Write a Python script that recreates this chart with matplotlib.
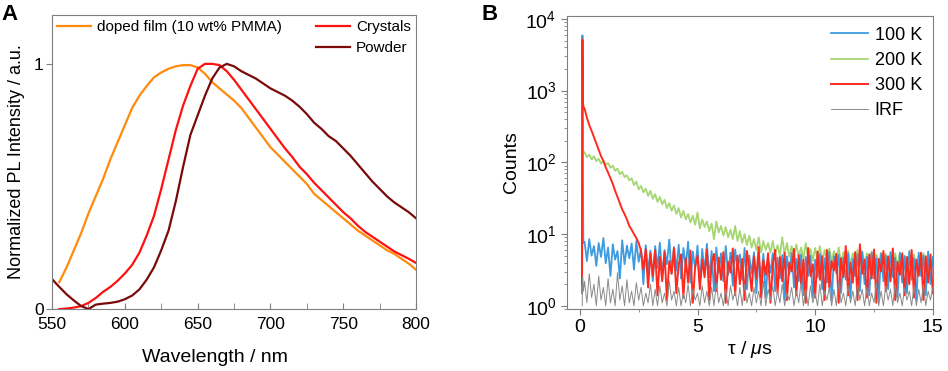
import numpy as np
import matplotlib
matplotlib.use('Agg')
import matplotlib.pyplot as plt
from matplotlib.ticker import MultipleLocator, LogLocator, NullFormatter

plt.rcParams['font.family'] = ['Liberation Sans', 'DejaVu Sans']
plt.rcParams['mathtext.fontset'] = 'custom'
plt.rcParams['mathtext.rm'] = 'Liberation Sans'
plt.rcParams['mathtext.it'] = 'Liberation Sans:italic'

# ---- panel A: normalized PL spectra ----
wl_film = [555, 560, 565, 570, 575, 580, 585, 590, 595, 600, 605, 610, 615, 620,
           625, 630, 635, 640, 645, 650, 655, 660, 665, 670, 675, 680, 685, 690,
           695, 700, 705, 710, 715, 720, 725, 730, 735, 740, 745, 750, 755, 760,
           765, 770, 775, 780, 785, 790, 795, 800]
pl_film = [0.11, 0.17, 0.24, 0.31, 0.39, 0.46, 0.53, 0.61, 0.68, 0.75, 0.82, 0.87,
           0.91, 0.945, 0.965, 0.98, 0.99, 0.995, 0.995, 0.985, 0.96, 0.925, 0.90,
           0.875, 0.85, 0.82, 0.78, 0.74, 0.70, 0.66, 0.63, 0.60, 0.57, 0.54, 0.51,
           0.47, 0.445, 0.42, 0.395, 0.37, 0.345, 0.32, 0.30, 0.28, 0.26, 0.24,
           0.225, 0.205, 0.185, 0.16]

wl_cryst = [555, 560, 565, 570, 575, 580, 585, 590, 595, 600, 605, 610, 615, 620,
            625, 630, 635, 640, 645, 650, 655, 660, 665, 670, 675, 680, 685, 690,
            695, 700, 705, 710, 715, 720, 725, 730, 735, 740, 745, 750, 755, 760,
            765, 770, 775, 780, 785, 790, 795, 800]
pl_cryst = [0.0, 0.002, 0.006, 0.012, 0.025, 0.045, 0.07, 0.09, 0.115, 0.145,
            0.18, 0.23, 0.3, 0.38, 0.49, 0.61, 0.73, 0.83, 0.91, 0.98, 1.0, 1.0,
            0.995, 0.97, 0.935, 0.895, 0.855, 0.815, 0.775, 0.735, 0.695, 0.655,
            0.62, 0.58, 0.55, 0.515, 0.485, 0.455, 0.425, 0.395, 0.37, 0.34, 0.315,
            0.295, 0.275, 0.255, 0.235, 0.22, 0.205, 0.188]

wl_powder = [550, 555, 560, 565, 570, 575, 580, 585, 590, 595, 600, 605, 610, 615,
             620, 625, 630, 635, 640, 645, 650, 655, 660, 665, 670, 675, 680, 685,
             690, 695, 700, 705, 710, 715, 720, 725, 730, 735, 740, 745, 750, 755,
             760, 765, 770, 775, 780, 785, 790, 795, 800]
pl_powder = [0.122, 0.09, 0.06, 0.035, 0.012, 0.0, 0.018, 0.022, 0.025, 0.03, 0.04,
             0.055, 0.08, 0.12, 0.17, 0.24, 0.32, 0.44, 0.58, 0.71, 0.79, 0.87,
             0.94, 0.985, 1.0, 0.99, 0.97, 0.955, 0.94, 0.92, 0.9, 0.885, 0.87,
             0.85, 0.825, 0.795, 0.76, 0.735, 0.705, 0.685, 0.655, 0.625, 0.59,
             0.555, 0.52, 0.49, 0.46, 0.435, 0.415, 0.395, 0.37]

# ---- panel B: PL decays ----
# first few time bins around the excitation pulse
t_head_blue = [0.09, 0.11, 0.13, 0.15]
head_blue = [1.5, 5900, 60, 7.5]
t_head_green = [0.10, 0.12, 0.14, 0.16]
head_green = [1.5, 400, 150, 135]
t_head_red = [0.09, 0.11, 0.13, 0.15]
head_red = [2.0, 5100, 700, 600]
t_head_irf = [0.10, 0.12, 0.15]
head_irf = [1.0, 2.5, 1.6]

# remaining bins, 0.2 us to 15.0 us in 0.1 us steps
t_tail = np.round(np.arange(0.2, 15.05, 0.1), 2)
tail_blue = [7.8, 4.2, 8.5, 5.0, 6.8, 3.6, 7.5, 4.8, 8.8, 3.9,
             6.5, 2.6, 7.2, 4.4, 5.8, 2.4, 8.2, 3.8, 6.9, 4.6,
             7.4, 3.2, 8.0, 4.1, 6.2, 2.0, 7.0, 3.0, 5.9, 2.2,
             6.8, 3.4, 7.6, 2.6, 6.0, 3.8, 8.4, 2.8, 6.6, 3.1,
             7.1, 2.4, 6.4, 3.5, 7.8, 2.1, 5.7, 3.3, 6.9, 2.0,
             6.2, 3.0, 7.3, 2.5, 5.8, 1.6, 6.5, 2.9, 5.4, 2.2,
             6.8, 2.7, 5.5, 1.9, 6.1, 3.2, 5.2, 2.3, 6.4, 1.7,
             5.0, 2.8, 5.6, 1.5, 4.8, 2.5, 5.3, 1.3, 4.6, 2.9,
             5.4, 1.6, 4.7, 2.4, 5.1, 1.2, 4.9, 2.7, 5.5, 1.8,
             4.5, 2.2, 5.2, 1.4, 4.8, 2.6, 5.0, 1.3, 4.4, 2.5,
             5.3, 1.7, 4.6, 2.1, 5.6, 1.2, 4.9, 2.8, 5.1, 1.5,
             4.7, 2.3, 5.4, 1.3, 4.5, 2.6, 5.2, 1.6, 5.7, 2.0,
             4.8, 1.4, 5.5, 2.4, 4.6, 1.2, 5.3, 2.2, 5.0, 1.7,
             5.6, 2.5, 4.7, 1.3, 5.4, 2.1, 4.9, 1.5, 5.8, 2.3,
             4.6, 1.2, 5.5, 2.6, 5.0, 1.4, 5.7, 2.0, 4.8]
tail_green = [138, 118, 128, 110, 122, 104, 112, 96, 106, 92,
              98, 84, 90, 76, 82, 68, 74, 62, 66, 56,
              60, 48, 54, 42, 47, 38, 43, 34, 40, 31,
              36, 28, 33, 26, 30, 23, 27, 21, 25, 19,
              23, 17, 21, 16, 19, 14.5, 18, 13.5, 20, 12,
              16, 12.5, 15, 11, 14, 8.5, 15, 10.5, 13, 9.5,
              12.5, 9, 11.5, 8.5, 13, 8, 11, 7.5, 10, 7,
              9.5, 6.5, 8.5, 6, 9, 5.5, 8, 6, 7.5, 5.5,
              8, 5.2, 7, 5, 9, 5.2, 7.5, 4.8, 6.8, 5,
              7.2, 4.8, 6.5, 4.5, 7.5, 4.6, 6.2, 4.2, 6.4, 4.4,
              6.8, 4.3, 6, 4.1, 6.3, 4.2, 5.8, 4, 6.5, 3.9,
              5.6, 4, 5.8, 3.8, 5.4, 4.1, 6, 3.7, 5.5, 3.9,
              5.4, 3.8, 5.7, 3.6, 5.2, 3.9, 5.5, 3.5, 5.3, 3.7,
              5.1, 3.6, 5.4, 3.4, 5.6, 3.7, 5, 3.5, 5.3, 3.6,
              5.2, 3.4, 5, 3.6, 5.4, 3.3, 4.9, 3.5, 4.6]
tail_red = [560, 420, 330, 275, 225, 185, 150, 122, 105, 85,
            72, 60, 50, 40, 33, 27, 22, 19, 16, 13,
            11.5, 10, 8.8, 7.5, 5.8, 3.2, 6.2, 1.8, 5.4, 2.6,
            6.0, 1.4, 4.8, 2.2, 5.6, 1.2, 4.2, 2.8, 6.4, 1.5,
            3.8, 5.2, 1.3, 4.6, 2.1, 5.9, 1.1, 3.5, 5.0, 1.7,
            4.4, 2.5, 6.1, 1.2, 3.9, 5.3, 1.6, 4.7, 2.3, 5.6,
            1.1, 4.1, 2.9, 6.3, 1.4, 5.0, 2.0, 4.5, 1.2, 5.8,
            3.3, 1.6, 4.9, 2.4, 6.6, 1.3, 4.3, 2.7, 5.4, 1.1,
            3.7, 6.0, 1.5, 4.8, 2.2, 5.5, 1.2, 4.0, 3.0, 6.2,
            1.4, 5.1, 2.0, 4.4, 1.1, 6.4, 2.6, 3.8, 1.3, 5.7,
            2.3, 4.9, 1.2, 6.0, 1.8, 4.2, 3.1, 5.3, 1.1, 4.6,
            2.5, 6.8, 1.4, 4.0, 2.1, 5.6, 1.2, 7.2, 2.8, 4.4,
            1.3, 5.2, 2.4, 6.1, 1.1, 4.5, 3.0, 5.8, 1.6, 4.9,
            2.2, 6.3, 1.2, 4.1, 2.7, 5.4, 1.4, 4.8, 2.0, 6.0,
            1.3, 4.4, 2.6, 5.5, 1.2, 4.9, 2.1, 5.2, 1.5]
tail_irf = [2.2, 1.1, 2.8, 1.3, 2.0, 1.0, 2.6, 1.2, 1.8, 1.0,
            2.4, 1.1, 1.7, 1.0, 2.9, 1.2, 1.9, 1.0, 2.3, 1.1,
            1.6, 1.0, 2.1, 1.2, 1.8, 1.0, 1.5, 1.1, 2.0, 1.0,
            1.7, 1.0, 1.9, 1.1, 1.5, 1.0, 2.2, 1.2, 1.6, 1.0,
            1.8, 1.0, 1.5, 1.1, 2.0, 1.0, 1.7, 1.2, 1.5, 1.0,
            1.9, 1.1, 1.6, 1.0, 1.8, 1.0, 2.1, 1.1, 1.5, 1.0,
            1.7, 1.0, 1.9, 1.2, 1.6, 1.0, 1.8, 1.0, 2.0, 1.1,
            1.5, 1.0, 1.8, 1.1, 1.6, 1.0, 2.2, 1.0, 1.7, 1.2,
            1.9, 1.0, 1.6, 1.1, 2.0, 1.0, 1.5, 1.2, 1.8, 1.0,
            1.6, 1.1, 2.1, 1.0, 1.7, 1.0, 1.9, 1.1, 1.5, 1.0,
            2.0, 1.0, 1.6, 1.2, 1.8, 1.0, 1.7, 1.0, 2.2, 1.1,
            1.5, 1.0, 1.9, 1.1, 1.6, 1.0, 2.0, 1.2, 1.7, 1.0,
            1.8, 1.0, 1.5, 1.1, 2.1, 1.0, 1.6, 1.0, 1.9, 1.2,
            1.7, 1.0, 2.0, 1.1, 1.5, 1.0, 1.8, 1.2, 1.6, 1.0,
            1.9, 1.0, 1.7, 1.1, 2.0, 1.0, 1.6, 1.2, 1.8]

t_blue = np.concatenate([t_head_blue, t_tail])
c_blue = np.concatenate([head_blue, tail_blue])
t_green = np.concatenate([t_head_green, t_tail])
c_green = np.concatenate([head_green, tail_green])
t_red = np.concatenate([t_head_red, t_tail])
c_red = np.concatenate([head_red, tail_red])
t_irf = np.concatenate([t_head_irf, t_tail])
c_irf = np.concatenate([head_irf, tail_irf])

spine_col = '#7f7f7f'

fig = plt.figure(figsize=(9.48, 3.71), dpi=100)

# Panel A
axA = fig.add_axes([0.0549, 0.167, 0.384, 0.793])
l1, = axA.plot(wl_film, pl_film, color='#FF8A0D', linewidth=1.6,
               label='doped film (10 wt% PMMA)')
l2, = axA.plot(wl_cryst, pl_cryst, color='#FF1010', linewidth=1.6,
               label='Crystals')
l3, = axA.plot(wl_powder, pl_powder, color='#7A0A0A', linewidth=1.6,
               label='Powder')
axA.set_xlim(550, 800)
axA.set_ylim(0, 1.2)
axA.set_yticks([0, 1])
axA.set_yticklabels(['0', '1'])
axA.xaxis.set_major_locator(MultipleLocator(50))
axA.xaxis.set_minor_locator(MultipleLocator(25))
axA.tick_params(axis='x', which='both', direction='in', length=4,
                labelsize=12.5, color=spine_col, pad=6)
axA.tick_params(axis='y', direction='out', length=4, labelsize=12.5,
                color=spine_col, pad=2)
axA.set_xlabel('Wavelength / nm', fontsize=14)
axA.set_ylabel('Normalized PL Intensity / a.u.', fontsize=13)
axA.xaxis.set_label_coords(0.448, -0.135)
axA.yaxis.set_label_coords(-0.074, 0.5)
for s in axA.spines.values():
    s.set_color(spine_col)
leg1 = axA.legend(handles=[l1], loc='upper left', frameon=False, fontsize=11,
                  handlelength=2.2, handletextpad=0.4, borderaxespad=0.15,
                  borderpad=0.2)
axA.add_artist(leg1)
axA.legend(handles=[l2, l3], loc='upper right', frameon=False, fontsize=11,
           handlelength=2.2, handletextpad=0.4, borderaxespad=0.15,
           borderpad=0.2, labelspacing=0.45)
fig.text(0.002, 0.99, 'A', fontsize=16, fontweight='bold', va='top')

# Panel B
axB = fig.add_axes([0.598, 0.167, 0.386, 0.790])
axB.plot(t_green, c_green, color='#A6D672', linewidth=1.3, label='200 K')
axB.plot(t_blue, c_blue, color='#3D9BDF', linewidth=1.3, label='100 K')
axB.plot(t_red, c_red, color='#FF2A1E', linewidth=1.4, label='300 K')
axB.plot(t_irf, c_irf, color='#8a8a8a', linewidth=0.7, label='IRF')
axB.set_yscale('log')
axB.set_xlim(-0.55, 15)
axB.set_ylim(0.9, 1.1e4)
axB.xaxis.set_major_locator(MultipleLocator(5))
axB.xaxis.set_minor_locator(MultipleLocator(2.5))
axB.yaxis.set_major_locator(LogLocator(base=10, numticks=10))
axB.yaxis.set_minor_locator(LogLocator(base=10, subs=np.arange(2, 10), numticks=10))
axB.yaxis.set_minor_formatter(NullFormatter())
axB.tick_params(axis='both', which='major', direction='out', length=4,
                labelsize=14, color=spine_col)
axB.tick_params(axis='both', which='minor', direction='out', length=2.5,
                color=spine_col)
axB.set_xlabel(r'τ / $\mathit{\mu}$s', fontsize=14, labelpad=2)
axB.set_ylabel('Counts', fontsize=14, labelpad=4)
for s in axB.spines.values():
    s.set_color(spine_col)
h, lab = axB.get_legend_handles_labels()
order = [1, 0, 2, 3]
axB.legend([h[i] for i in order], [lab[i] for i in order], loc='upper right',
           frameon=False, fontsize=13, handlelength=2.0, handletextpad=0.4,
           borderaxespad=0.2, labelspacing=0.45)
fig.text(0.508, 0.99, 'B', fontsize=16, fontweight='bold', va='top')

fig.savefig('out.png', dpi=100)
